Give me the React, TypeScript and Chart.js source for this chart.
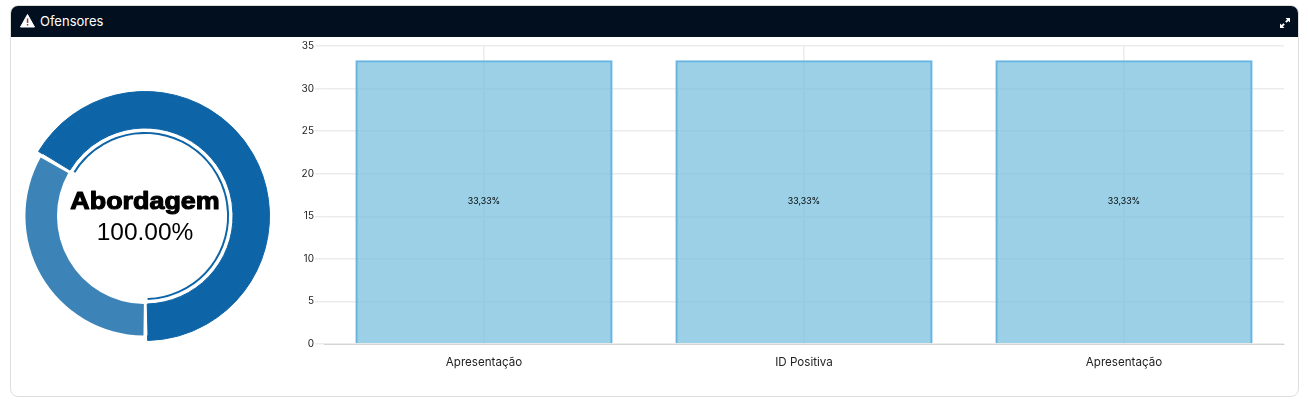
import React, { useEffect, useRef } from "react";
import { Chart, registerables } from "chart.js";

Chart.register(...registerables);

const barCategories = ["Apresentação", "ID Positiva", "Apresentação"];
const barValues = [33.33, 33.33, 33.33];
const barLabels = ["33,33%", "33,33%", "33,33%"];
const yTicksMax = 35;
const donutCategories = ["Abordagem", "Outros"];
const donutValues = [66.67, 33.33];
const centerTitle = "Abordagem";
const centerValue = "100.00%";
const cardTitle = "Ofensores";

const DARK = "#0d64a6";
const LIGHT = "#3c84b8";
const FONT = "Inter, 'Noto Sans', sans-serif";

const centerTextPlugin = {
  id: "centerText",
  afterDraw(chart: any) {
    const { ctx, chartArea } = chart;
    const cx = (chartArea.left + chartArea.right) / 2;
    const cy = (chartArea.top + chartArea.bottom) / 2;
    ctx.save();
    ctx.textAlign = "center";
    ctx.textBaseline = "alphabetic";
    ctx.fillStyle = "#000";
    ctx.strokeStyle = "#000";
    ctx.lineWidth = 1.1;
    ctx.lineJoin = "round";
    ctx.save();
    ctx.translate(cx, cy - 7);
    ctx.scale(1.12, 1);
    ctx.font = "bold 24px 'Liberation Sans', Arial, sans-serif";
    ctx.fillText(centerTitle, 0, 0);
    ctx.strokeText(centerTitle, 0, 0);
    ctx.restore();
    ctx.font = "24.5px 'Liberation Sans', Arial, sans-serif";
    ctx.fillText(centerValue, cx, cy + 24);
    ctx.restore();
  },
};

const barLabelPlugin = {
  id: "barLabels",
  afterDatasetsDraw(chart: any) {
    const { ctx } = chart;
    const meta = chart.getDatasetMeta(0);
    ctx.save();
    ctx.font = `8.8px ${FONT}`;
    ctx.fillStyle = "#000";
    ctx.textAlign = "center";
    ctx.textBaseline = "middle";
    meta.data.forEach((bar: any, i: number) => {
      const { x, y, base } = bar.getProps(["x", "y", "base"], true);
      ctx.fillText(barLabels[i], x, (y + base) / 2);
    });
    ctx.restore();
  },
};

export default function App() {
  const donutRef = useRef<HTMLCanvasElement>(null);
  const barRef = useRef<HTMLCanvasElement>(null);

  useEffect(() => {
    const none = "rgba(0,0,0,0)";
    const donut = new Chart(donutRef.current!, {
      type: "doughnut",
      data: {
        labels: donutCategories,
        datasets: [
          { data: donutValues, backgroundColor: [DARK, none], borderColor: [DARK, none], borderWidth: [1, 0], weight: 5 },
          { data: donutValues, backgroundColor: [DARK, LIGHT], borderColor: [DARK, LIGHT], borderWidth: [1, 0], weight: 32 },
          { data: donutValues, backgroundColor: none, borderWidth: 0, weight: 4 },
          { data: donutValues, backgroundColor: [DARK, none], borderWidth: 0, weight: 2 },
        ] as any,
      },
      options: {
        responsive: false,
        animation: false,
        cutout: "65.6%",
        rotation: -60,
        spacing: 2.5,
        layout: { padding: 0 },
        plugins: { legend: { display: false }, tooltip: { enabled: false } },
      } as any,
      plugins: [centerTextPlugin],
    });

    const bar = new Chart(barRef.current!, {
      type: "bar",
      data: {
        labels: barCategories,
        datasets: [
          {
            data: barValues,
            backgroundColor: "rgba(120,192,222,0.74)",
            borderColor: "#68b6e0",
            borderWidth: 2.5,
            categoryPercentage: 0.804,
            barPercentage: 1,
          },
        ],
      },
      options: {
        responsive: false,
        animation: false,
        layout: { padding: { top: 8, right: 6, left: 0, bottom: 0 } },
        plugins: { legend: { display: false }, tooltip: { enabled: false } },
        scales: {
          x: {
            grid: { offset: false, color: "#ececec", lineWidth: 1.5, drawTicks: false } as any,
            border: { color: "#d4d4d4", width: 1 },
            ticks: { color: "#222", font: { family: FONT, size: 11.6 }, padding: 11 },
          },
          y: {
            min: 0,
            max: yTicksMax,
            afterFit(s: any) { s.width = 44; },
            grid: { color: "#ececec", lineWidth: 1.5, drawTicks: true, tickLength: 9 },
            border: { display: false },
            ticks: { stepSize: 5, color: "#222", font: { family: FONT, size: 10 }, padding: 1 },
          },
        },
      } as any,
      plugins: [barLabelPlugin],
    });

    return () => {
      donut.destroy();
      bar.destroy();
    };
  }, []);

  return (
    <div style={{ position: "absolute", left: 0, top: 0, width: 1308, height: 405, overflow: "hidden", background: "#fff" }}>
      <div style={{ position: "absolute", left: 10, top: 5, width: 1289, height: 392, boxSizing: "border-box", border: "1px solid #dedede", borderRadius: 8, overflow: "hidden" }}>
        <div style={{ position: "absolute", left: 0, top: 0, right: 0, height: 31, background: "#020f1e" }}>
          <svg width="15" height="14" viewBox="0 0 15 14" style={{ position: "absolute", left: 9, top: 8 }}>
            <path d="M7.5 0.5 L14.5 13 L0.5 13 Z" fill="#fff" stroke="#fff" strokeLinejoin="round" />
            <rect x="6.8" y="4.5" width="1.5" height="4.5" fill="#9a3b2e" />
            <rect x="6.8" y="10" width="1.5" height="1.5" fill="#9a3b2e" />
          </svg>
          <span style={{ position: "absolute", left: 29, top: 7, color: "#fff", font: `13px ${FONT}`, lineHeight: "17px" }}>{cardTitle}</span>
          <svg width="12" height="12" viewBox="0 0 12 12" style={{ position: "absolute", left: 1268, top: 11 }}>
            <path d="M6.5 1 H11 V5.5 L9.4 3.9 L7.5 5.8 L6.2 4.5 L8.1 2.6 Z" fill="#fff" />
            <path d="M5.5 11 H1 V6.5 L2.6 8.1 L4.5 6.2 L5.8 7.5 L3.9 9.4 Z" fill="#fff" />
          </svg>
        </div>
      </div>
      <canvas ref={donutRef} width={250} height={250} style={{ position: "absolute", left: 20, top: 91, width: 250, height: 250 }} />
      <canvas ref={barRef} width={1010} height={342} style={{ position: "absolute", left: 280, top: 38, width: 1010, height: 342 }} />
    </div>
  );
}
